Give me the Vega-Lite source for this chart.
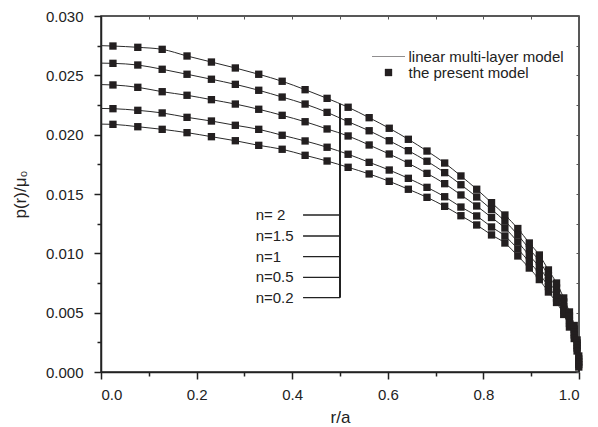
{
 "$schema": "https://vega.github.io/schema/vega-lite/v6.json",
 "width": 478, "height": 356,
 "autosize": "none",
 "padding": {"left": 101, "top": 16, "right": 19, "bottom": 55},
 "background": "white",
 "config": {
  "font": "Liberation Sans",
  "view": {"stroke": "#222", "strokeWidth": 1.5},
  "axis": {"domainColor": "#222", "domainWidth": 1.5, "tickColor": "#222", "tickWidth": 1.5, "labelFontSize": 15, "labelColor": "#222", "labelFont": "Liberation Sans", "titleFont": "Liberation Sans", "titleFontSize": 17, "titleFontWeight": "normal", "titleColor": "#222", "grid": false},
  "legend": {"labelFont": "Liberation Sans", "labelFontSize": 15, "labelColor": "#222"}
 },
 "resolve": {"axis": {"x": "independent", "y": "independent"}},
 "datasets": {
  "curves": [
   {"r": 0, "n2": 0.02750, "n15": 0.02603, "n1": 0.02422, "n05": 0.02221, "n02": 0.02089, "k": "e"},
   {"r": 0.025, "n2": 0.02747, "n15": 0.02601, "n1": 0.02419, "n05": 0.02219, "n02": 0.02087, "k": "m"},
   {"r": 0.077, "n2": 0.02736, "n15": 0.02587, "n1": 0.02399, "n05": 0.02205, "n02": 0.02067, "k": "m"},
   {"r": 0.128, "n2": 0.02719, "n15": 0.02551, "n1": 0.02362, "n05": 0.02183, "n02": 0.02045, "k": "m"},
   {"r": 0.180, "n2": 0.02663, "n15": 0.02509, "n1": 0.02332, "n05": 0.02146, "n02": 0.02017, "k": "m"},
   {"r": 0.231, "n2": 0.02612, "n15": 0.02467, "n1": 0.02295, "n05": 0.02115, "n02": 0.01983, "k": "m"},
   {"r": 0.281, "n2": 0.02562, "n15": 0.02424, "n1": 0.02258, "n05": 0.02079, "n02": 0.01949, "k": "m"},
   {"r": 0.330, "n2": 0.02509, "n15": 0.02374, "n1": 0.02214, "n05": 0.02045, "n02": 0.01910, "k": "m"},
   {"r": 0.379, "n2": 0.02450, "n15": 0.02317, "n1": 0.02163, "n05": 0.01995, "n02": 0.01877, "k": "m"},
   {"r": 0.427, "n2": 0.02379, "n15": 0.02258, "n1": 0.02109, "n05": 0.01947, "n02": 0.01826, "k": "m"},
   {"r": 0.473, "n2": 0.02306, "n15": 0.02188, "n1": 0.02048, "n05": 0.01894, "n02": 0.01778, "k": "m"},
   {"r": 0.517, "n2": 0.02231, "n15": 0.02109, "n1": 0.01989, "n05": 0.01835, "n02": 0.01725, "k": "m"},
   {"r": 0.561, "n2": 0.02143, "n15": 0.02033, "n1": 0.01913, "n05": 0.01767, "n02": 0.01669, "k": "m"},
   {"r": 0.603, "n2": 0.02054, "n15": 0.01949, "n1": 0.01837, "n05": 0.01702, "n02": 0.01607, "k": "m"},
   {"r": 0.643, "n2": 0.01961, "n15": 0.01865, "n1": 0.01759, "n05": 0.01632, "n02": 0.01540, "k": "m"},
   {"r": 0.682, "n2": 0.01862, "n15": 0.01776, "n1": 0.01674, "n05": 0.01556, "n02": 0.01472, "k": "m"},
   {"r": 0.719, "n2": 0.01761, "n15": 0.01680, "n1": 0.01587, "n05": 0.01477, "n02": 0.01396, "k": "m"},
   {"r": 0.753, "n2": 0.01652, "n15": 0.01578, "n1": 0.01492, "n05": 0.01390, "n02": 0.01317, "k": "m"},
   {"r": 0.786, "n2": 0.01540, "n15": 0.01475, "n1": 0.01399, "n05": 0.01315, "n02": 0.01239, "k": "m"},
   {"r": 0.817, "n2": 0.01427, "n15": 0.01369, "n1": 0.01302, "n05": 0.01222, "n02": 0.01155, "k": "m"},
   {"r": 0.845, "n2": 0.01323, "n15": 0.01272, "n1": 0.01213, "n05": 0.01146, "n02": 0.01087, "k": "m"},
   {"r": 0.872, "n2": 0.01209, "n15": 0.01155, "n1": 0.01096, "n05": 0.01037, "n02": 0.00978, "k": "m"},
   {"r": 0.896, "n2": 0.01087, "n15": 0.01037, "n1": 0.00982, "n05": 0.00927, "n02": 0.00876, "k": "m"},
   {"r": 0.917, "n2": 0.00986, "n15": 0.00935, "n1": 0.00885, "n05": 0.00830, "n02": 0.00779, "k": "m"},
   {"r": 0.936, "n2": 0.00860, "n15": 0.00813, "n1": 0.00767, "n05": 0.00720, "n02": 0.00674, "k": "m"},
   {"r": 0.953, "n2": 0.00750, "n15": 0.00708, "n1": 0.00666, "n05": 0.00624, "n02": 0.00586, "k": "m"},
   {"r": 0.968, "n2": 0.00624, "n15": 0.00590, "n1": 0.00552, "n05": 0.00518, "n02": 0.00485, "k": "m"},
   {"r": 0.980, "n2": 0.00506, "n15": 0.00472, "n1": 0.00438, "n05": 0.00409, "n02": 0.00379, "k": "m"},
   {"r": 0.990, "n2": 0.00392, "n15": 0.00362, "n1": 0.00337, "n05": 0.00312, "n02": 0.00282, "k": "m"},
   {"r": 0.996, "n2": 0.00270, "n15": 0.00244, "n1": 0.00223, "n05": 0.00202, "n02": 0.00177, "k": "m"},
   {"r": 0.9995, "n2": 0.00135, "n15": 0.00110, "n1": 0.00084, "n05": 0.00063, "n02": 0.00042, "k": "m"},
   {"r": 1.0, "n2": 0, "n15": 0, "n1": 0, "n05": 0, "n02": 0, "k": "e"}
  ],
  "ann": [
   {"label": "n= 2", "p": 0.01323},
   {"label": "n=1.5", "p": 0.01146},
   {"label": "n=1", "p": 0.00972},
   {"label": "n=0.5", "p": 0.00798},
   {"label": "n=0.2", "p": 0.00626}
  ]
 },
 "layer": [
  {
   "data": {"name": "curves"},
   "transform": [{"fold": ["n2", "n15", "n1", "n05", "n02"], "as": ["series", "p"]}],
   "mark": {"type": "line", "interpolate": "monotone", "color": "#2a2a2a", "strokeWidth": 1},
   "encoding": {
    "x": {"field": "r", "type": "quantitative", "scale": {"domain": [0, 1], "nice": false},
     "title": "r/a",
     "axis": {"orient": "bottom", "values": [0, 0.1, 0.2, 0.3, 0.4, 0.5, 0.6, 0.7, 0.8, 0.9, 1.0], "format": ".1f",
      "labelExpr": "round(datum.value*10)%2==0 ? datum.label : ''",
      "tickSize": {"condition": {"test": "round(datum.value*10)%2==1", "value": 4}, "value": 7},
      "labelPadding": 8, "titlePadding": 7}},
    "y": {"field": "p", "type": "quantitative", "scale": {"domain": [0, 0.03], "nice": false},
     "title": "p(r)/μ₀",
     "axis": {"orient": "left", "values": [0, 0.0025, 0.005, 0.0075, 0.01, 0.0125, 0.015, 0.0175, 0.02, 0.0225, 0.025, 0.0275, 0.03], "format": ".3f",
      "labelExpr": "round(datum.value*400)%2==0 ? datum.label : ''",
      "tickSize": {"condition": {"test": "round(datum.value*400)%2==1", "value": 4}, "value": 7},
      "labelPadding": 11, "titlePadding": 16}},
    "detail": {"field": "series"}
   }
  },
  {
   "data": {"name": "curves"},
   "transform": [{"filter": "datum.k == 'm'"}, {"fold": ["n2", "n15", "n1", "n05", "n02"], "as": ["series", "p"]}],
   "mark": {"type": "point", "filled": true, "color": "#231f20", "size": 54, "opacity": 1},
   "encoding": {
    "x": {"field": "r", "type": "quantitative",
     "axis": {"orient": "top", "values": [0, 0.1, 0.2, 0.3, 0.4, 0.5, 0.6, 0.7, 0.8, 0.9, 1.0], "labels": false, "domain": false, "title": null, "tickSize": -3, "tickWidth": 1, "tickColor": "#555"}},
    "y": {"field": "p", "type": "quantitative",
     "axis": {"orient": "right", "values": [0, 0.0025, 0.005, 0.0075, 0.01, 0.0125, 0.015, 0.0175, 0.02, 0.0225, 0.025, 0.0275, 0.03], "labels": false, "domain": false, "title": null, "tickSize": -3, "tickWidth": 1, "tickColor": "#555"}},
    "shape": {"datum": "the present model",
     "scale": {"domain": ["linear multi-layer model", "the present model"], "range": ["M-4.5,-0.08H4.5V0.08H-4.5Z", "M-1,-1H1V1H-1Z"]},
     "legend": {"title": null, "orient": "none", "legendX": 280, "legendY": 33, "symbolSize": 54, "rowPadding": -1.5, "labelOffset": 12.5,
      "encode": {"symbols": {"update": {"stroke": {"value": "#231f20"}, "strokeWidth": {"value": 0.6}, "fill": {"value": "#231f20"}, "opacity": {"value": 1}}}}}}
   }
  },
  {
   "data": {"values": [{}]},
   "mark": {"type": "rule", "color": "#222", "strokeWidth": 2},
   "encoding": {"x": {"datum": 0.5, "axis": null}, "y": {"datum": 0.00626, "axis": null}, "y2": {"datum": 0.0226}}
  },
  {
   "data": {"name": "ann"},
   "mark": {"type": "rule", "color": "#222", "strokeWidth": 1.3},
   "encoding": {"x": {"datum": 0.4227, "axis": null}, "x2": {"datum": 0.5}, "y": {"field": "p", "type": "quantitative", "axis": null}}
  },
  {
   "data": {"name": "ann"},
   "mark": {"type": "text", "align": "left", "baseline": "middle", "fontSize": 15, "color": "#222", "font": "Liberation Sans"},
   "encoding": {"x": {"datum": 0.3235, "axis": null}, "y": {"field": "p", "type": "quantitative", "axis": null}, "text": {"field": "label"}}
  }
 ]
}
